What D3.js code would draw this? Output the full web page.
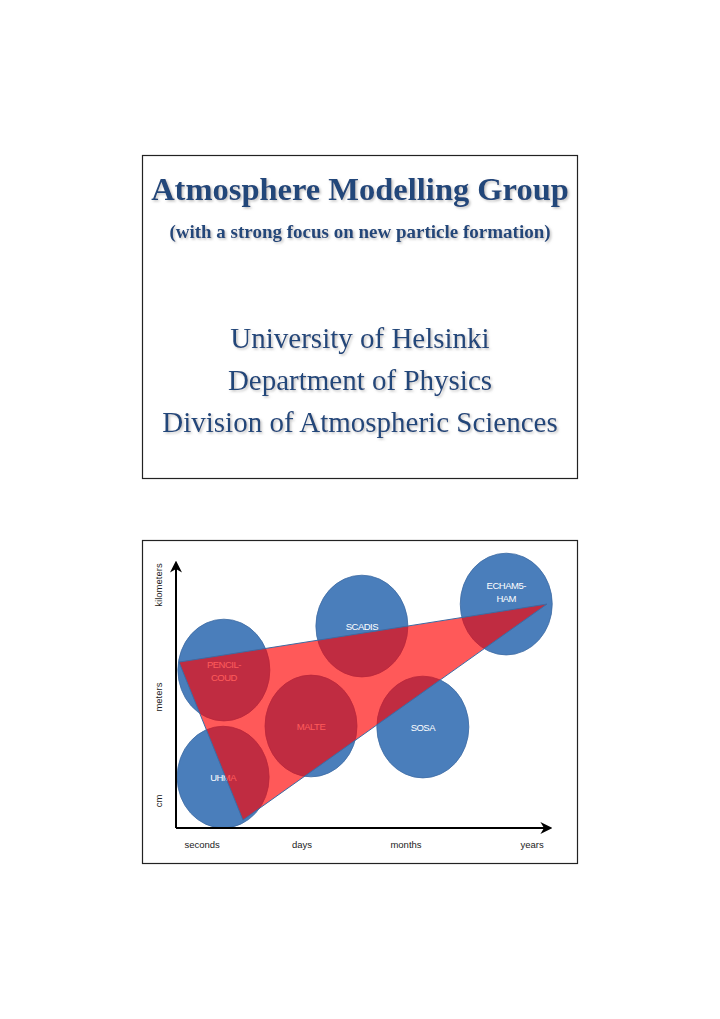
<!DOCTYPE html>
<html><head><meta charset="utf-8">
<script src="https://cdn.jsdelivr.net/npm/d3@7"></script>
<style>body{margin:0;background:#fff}</style></head>
<body><svg id="c" width="720" height="1019"></svg>
<script>
const models = ["UHMA","PENCIL-\nCOUD","MALTE","SCADIS","SOSA","ECHAM5-\nHAM"];
const modelX = [12.6,12.8,36.1,49.7,66.0,88.3];
const modelY = [19.2,59.6,38.5,76.2,38.1,84.5];
const labelY = [19.2,59.6,38.5,76.2,38.1,89.4];
const triX = [0.8,99.2,17.9];
const triY = [62.6,84.5,3.0];
const xTickLabels = ["seconds","days","months","years"];
const xTickPos = [7,33.7,61.5,95.2];
const yTickLabels = ["kilometers","meters","cm"];
const yTickPos = [91.7,49.4,10.2];
const titleLines = ["University of Helsinki","Department of Physics","Division of Atmospheric Sciences"];

const svg = d3.select("#c");
const defs = svg.append("defs");
const f = defs.append("filter").attr("id","sh");
f.append("feDropShadow").attr("dx",1.5).attr("dy",1.5).attr("stdDeviation",1).attr("flood-color","#999").attr("flood-opacity",0.6);

svg.append("rect").attr("x",142.5).attr("y",155.5).attr("width",435).attr("height",323).attr("fill","none").attr("stroke","#222").attr("stroke-width",1.2);
svg.append("rect").attr("x",142.5).attr("y",540.5).attr("width",435).attr("height",323).attr("fill","none").attr("stroke","#222").attr("stroke-width",1.2);

const tc="#24477a";
svg.append("text").attr("x",360).attr("y",200).attr("text-anchor","middle").attr("font-family","Liberation Serif").attr("font-weight","bold").attr("font-size",32.5).attr("fill",tc).attr("filter","url(#sh)").text("Atmosphere Modelling Group");
svg.append("text").attr("x",360).attr("y",238).attr("text-anchor","middle").attr("font-family","Liberation Serif").attr("font-weight","bold").attr("font-size",19).attr("fill",tc).attr("filter","url(#sh)").text("(with a strong focus on new particle formation)");
titleLines.forEach((t,i)=>svg.append("text").attr("x",360).attr("y",348+i*42).attr("text-anchor","middle").attr("font-family","Liberation Serif").attr("font-size",29).attr("fill",tc).attr("filter","url(#sh)").text(t));

const x = d3.scaleLinear().domain([0,100]).range([176,550]);
const y = d3.scaleLinear().domain([0,100]).range([828,563]);
const rX = x(12.3)-x(0), rY = y(0)-y(19.2);

const g = svg.append("g");
models.forEach((m,i)=>{
  g.append("ellipse").attr("cx",x(modelX[i])).attr("cy",y(modelY[i])).attr("rx",rX).attr("ry",rY).attr("fill","#4a7ebb").attr("stroke","#3d6ba3").attr("stroke-width",0.8);
  const lines=m.split("\n");
  lines.forEach((l,j)=>g.append("text").attr("x",x(modelX[i])).attr("y",y(labelY[i])+4+(j-(lines.length-1)/2)*13).attr("text-anchor","middle").attr("font-family","Liberation Sans").attr("font-size",9.5).attr("letter-spacing",-0.5).attr("fill","#fff").text(l));
});
g.append("polygon").attr("points",triX.map((v,i)=>x(v)+","+y(triY[i])).join(" ")).attr("fill","rgba(255,0,0,0.65)").attr("stroke","#3d6ba3").attr("stroke-width",1);

svg.append("defs").html('<marker id="ar" viewBox="0 0 10 10" refX="8" refY="5" markerWidth="6" markerHeight="6" orient="auto"><path d="M0,0L10,5L0,10L3,5z" fill="#000"/></marker>');
svg.append("line").attr("x1",x(0)).attr("y1",y(0)).attr("x2",x(0)).attr("y2",y(100)).attr("stroke","#000").attr("stroke-width",2).attr("marker-end","url(#ar)");
svg.append("line").attr("x1",x(0)).attr("y1",y(0)).attr("x2",x(100)).attr("y2",y(0)).attr("stroke","#000").attr("stroke-width",2).attr("marker-end","url(#ar)");
xTickLabels.forEach((t,i)=>svg.append("text").attr("x",x(xTickPos[i])).attr("y",848).attr("text-anchor","middle").attr("font-family","Liberation Sans").attr("font-size",9.5).attr("fill","#222").text(t));
yTickLabels.forEach((t,i)=>svg.append("text").attr("transform",`translate(162,${y(yTickPos[i])}) rotate(-90)`).attr("text-anchor","middle").attr("font-family","Liberation Sans").attr("font-size",9.5).attr("fill","#222").text(t));
</script></body></html>
